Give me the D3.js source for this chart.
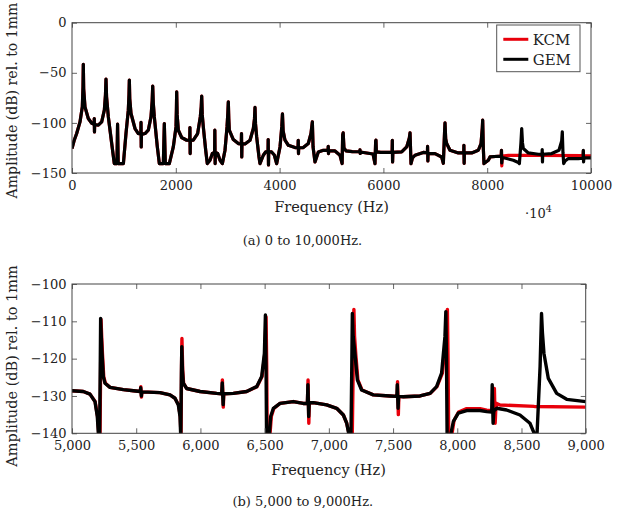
<!DOCTYPE html>
<html>
<head>
<meta charset="utf-8">
<script src="https://cdn.jsdelivr.net/npm/d3@7"></script>
<style>
  html, body { margin: 0; padding: 0; background: #fff; }
  svg { display: block; }
  text { font-family: "DejaVu Serif", serif; fill: #222; }
</style>
</head>
<body>
<svg id="chart" width="617" height="508"></svg>
<script>
// ---------- DATA ----------
const seriesNames = ["KCM", "GEM"];

// Panel (a): 0 to 10,000 Hz — [frequency Hz, amplitude dB]
const topShared = [
  [0,-125.6],[45,-117],[90,-110.6],[154,-99],[199,-84],[212,-64],[218,-41.6],[225,-66],[250,-84],[314,-95.6],[380,-100.3],
  [426,-101.3],[429,-95.6],[433,-109],[437,-101.6],[507,-102.3],[572,-99],[623,-87.3],[645,-72],[655,-56.3],[666,-74],
  [700,-94],[765,-120.6],[815,-140.6],[866,-140.6],[878,-101.3],[890,-140.6],[990,-140.6],[1040,-110.6],[1085,-87.3],
  [1098,-72],[1105,-57.3],[1113,-76],[1137,-90.6],[1214,-105.6],[1278,-110.6],[1326,-111.3],[1330,-99.5],[1334,-124],
  [1338,-111.5],[1407,-110.6],[1470,-107.3],[1522,-94],[1545,-78],[1555,-63.3],[1566,-80],[1586,-94],[1644,-124],
  [1683,-140.6],[1760,-140.6],[1779,-100.6],[1798,-140.6],[1875,-140.6],[1952,-124],[2004,-104],[2012,-86],[2017,-69],
  [2026,-92],[2049,-107.3],[2113,-114.6],[2210,-117.3],[2268,-117.5],[2272,-104.6],[2277,-130.6],[2281,-117.5],
  [2337,-117.3],[2421,-110.6],[2472,-94],[2490,-84],[2499,-73.3],[2510,-92],[2530,-104],[2576,-127.3],[2607,-140.6],
  [2659,-137.3],[2704,-130.6],[2748,-129.5],[2752,-107.3],[2758,-140.6],[2763,-129.5],[2807,-130.6],[2852,-137.3],
  [2897,-140.6],[2948,-127.3],[2987,-104],[3003,-90],[3012,-79],[3021,-96],[3031,-107.3],[3108,-116.6],[3204,-120.6],
  [3262,-121],[3266,-110.6],[3271,-134],[3275,-121],[3333,-121],[3430,-117.3],[3494,-105.6],[3516,-96],[3526,-84.6],
  [3536,-101],[3558,-114],[3603,-134],[3622,-140.6],[3686,-132.3],[3731,-129],[3777,-129],[3780,-116.6],[3786,-142],
  [3790,-129],[3846,-129],[3898,-132],[3943,-140.6],[4008,-124],[4042,-104],[4055,-91],[4068,-108],[4104,-117.3],
  [4168,-122.3],[4297,-124.6],[4355,-124.8],[4359,-117.3],[4364,-130.6],[4368,-124.8],[4457,-124.6],[4553,-120.6],
  [4605,-110.6],[4631,-99],[4645,-124],[4682,-139],[4746,-129],[4843,-127.3],[4933,-127.5],[4937,-123.3],[4942,-130.6],
  [4946,-127.8],[5067,-128],[5164,-132.3],[5196,-139],[5205,-140.6],[5215,-112],[5225,-110],[5240,-125],[5280,-128],
  [5400,-128.6],[5545,-128.8],[5549,-127],[5553,-130.5],[5557,-129],[5678,-130],[5800,-131],[5838,-140.6],[5851,-118],
  [5857,-117.3],[5865,-129],[5950,-129.5],[6100,-129.5],[6168,-129.5],[6172,-117.3],[6177,-139],[6182,-129.5],
  [6352,-129],[6449,-124],[6500,-115],[6513,-110],[6532,-140.6],[6560,-135],[6609,-132.3],[6769,-129.5],[6848,-130],
  [6851,-123.5],[6857,-138],[6861,-130.5],[6994,-130.6],[7123,-134],[7155,-140.3],[7178,-110],[7187,-100],[7200,-116],
  [7219,-120.6],[7283,-127.3],[7444,-130],[7548,-130],[7551,-122.3],[7556,-140.3],[7560,-130],[7701,-130],[7829,-127.3],
  [7881,-120.6],[7906,-105],[7913,-97.3],[7925,-125],[7938,-140.6],[8022,-137.3],[8054,-134],[8214,-133.3],[8270,-133.5],
  [8275,-127.3]
];
const topGEMTail = [
  [8280,-140],[8290,-134.5],[8375,-135.6],[8503,-137.3],[8600,-139.5],[8620,-140.6],[8650,-120],[8665,-105.6],[8680,-120],
  [8696,-125.6],[8792,-130],[8985,-131.3],[9056,-131.5],[9060,-126.6],[9065,-139],[9070,-131.3],[9243,-130.6],
  [9383,-127.3],[9435,-118],[9447,-109],[9460,-130],[9474,-140.6],[9500,-138],[9563,-135.6],[9756,-135.6],
  [9848,-135.3],[9852,-127.3],[9857,-139],[9862,-135],[10000,-135]
];
const topKCMTail = [
  [8281,-143],[8292,-133],[8407,-132.3],[9000,-132.5],[9848,-132.7],[9852,-128],[9857,-137],[9862,-132.8],[10000,-133]
];

// Panel (b): 5,000 to 9,000 Hz
const zoomGEM = [
  [5000,-128.6],[5088,-128.8],[5140,-129.5],[5179,-131.5],[5197,-135.5],[5207,-141],[5215,-141],[5220,-122],[5223,-109.2],
  [5228,-114],[5234,-118.6],[5244,-124.8],[5257,-126.6],[5296,-127.7],[5400,-128.3],[5478,-128.6],[5532,-128.8],
  [5535,-127.8],[5540,-130],[5543,-128.9],[5685,-129.1],[5763,-129.7],[5802,-130.6],[5828,-132.4],[5841,-135.5],
  [5847,-141],[5852,-124],[5855,-116.8],[5860,-123],[5867,-126.6],[5893,-128],[5997,-128.8],[6126,-129.3],[6166,-129.4],
  [6170,-126.5],[6177,-132.3],[6181,-129.4],[6256,-129.3],[6360,-128.8],[6438,-127.5],[6477,-124.8],[6498,-118.6],
  [6506,-108.3],[6511,-122],[6515,-141],[6535,-141],[6547,-135.5],[6568,-133.3],[6620,-132],[6723,-131.5],[6801,-132],
  [6833,-132],[6837,-127],[6843,-135.5],[6847,-131.8],[6879,-131.8],[6983,-132.4],[7061,-133.3],[7113,-135.1],
  [7139,-137.3],[7157,-140.5],[7172,-141],[7178,-124],[7183,-107.9],[7189,-114],[7203,-118.6],[7222,-125.7],
  [7255,-128.4],[7346,-129.7],[7476,-130],[7530,-130.1],[7533,-127],[7539,-133.3],[7543,-130.1],[7580,-130.2],
  [7710,-130],[7788,-129.3],[7839,-127.5],[7878,-123.9],[7904,-114.1],[7911,-107.4],[7916,-120],[7921,-141],[7945,-141],
  [7969,-136.9],[8008,-134.6],[8073,-133.9],[8177,-133.9],[8229,-134.2],[8268,-134.3],[8272,-127],[8279,-137.3],
  [8285,-134],[8307,-133.3],[8384,-133.75],[8488,-135.1],[8566,-137.3],[8605,-140.5],[8620,-141],[8645,-122],
  [8656,-107.9],[8663,-113],[8675,-118.6],[8709,-125.3],[8774,-129.3],[8852,-130.9],[9000,-131.5]
];
const zoomKCM = [
  [5000,-128.6],[5088,-128.8],[5140,-129.5],[5180,-131.5],[5199,-135.5],[5210,-141],[5218,-141],[5223,-122],[5226,-109.5],
  [5231,-114],[5237,-118.6],[5247,-124.8],[5260,-126.6],[5296,-127.7],[5400,-128.3],[5478,-128.6],[5532,-128.8],
  [5536,-127.5],[5541,-130.3],[5545,-128.9],[5685,-129.1],[5763,-129.7],[5802,-130.6],[5830,-132.4],[5843,-135.5],
  [5849,-141],[5853,-122],[5856,-114.6],[5862,-123],[5869,-126.6],[5893,-128],[5997,-128.8],[6126,-129.3],[6166,-129.4],
  [6171,-125.7],[6178,-133],[6182,-129.4],[6256,-129.3],[6360,-128.8],[6440,-127.5],[6480,-124.8],[6502,-118.6],
  [6511,-108.8],[6516,-122],[6520,-141],[6540,-141],[6552,-135.5],[6572,-133.3],[6620,-132],[6723,-131.5],[6801,-132],
  [6833,-132],[6838,-125.7],[6844,-137.3],[6848,-131.8],[6879,-131.8],[6983,-132.4],[7061,-133.3],[7113,-135.1],
  [7139,-137.3],[7160,-140.5],[7182,-141],[7189,-124],[7195,-106.8],[7200,-114],[7210,-119],[7226,-125.7],
  [7258,-128.4],[7346,-129.7],[7476,-130],[7531,-130.1],[7535,-126.2],[7541,-135],[7545,-130.1],[7580,-130.2],
  [7710,-130],[7790,-129.3],[7842,-127.5],[7884,-123.9],[7912,-114.1],[7923,-106.8],[7928,-120],[7933,-141],[7955,-141],
  [7975,-136.5],[8010,-134.3],[8073,-133.4],[8177,-133.4],[8229,-133.8],[8285,-134],[8289,-128],[8295,-137.3],
  [8300,-133.5],[8307,-132],[8333,-132.4],[8600,-132.8],[9000,-133.0]
];

const topXTicks = [0, 2000, 4000, 6000, 8000, 10000];
const topYTicks = [0, -50, -100, -150];
const zoomXTicks = [5000, 5500, 6000, 6500, 7000, 7500, 8000, 8500, 9000];
const zoomYTicks = [-100, -110, -120, -130, -140];

// ---------- DRAW ----------
const svg = d3.select("#chart");
svg.append("rect").attr("width", 617).attr("height", 508).attr("fill", "#fff");

const colors = { KCM: "#e8000b", GEM: "#000" };

function panel(cfg) {
  const { id, x0, x1, y0, y1, xDomain, yDomain, xTicks, yTicks, xFmt, series, lw } = cfg;
  const x = d3.scaleLinear().domain(xDomain).range([x0, x1]);
  const y = d3.scaleLinear().domain(yDomain).range([y1, y0]);
  const g = svg.append("g");

  g.append("clipPath").attr("id", "clip" + id)
    .append("rect").attr("x", x0).attr("y", y0).attr("width", x1 - x0).attr("height", y1 - y0);

  const line = d3.line().x(d => x(d[0])).y(d => y(d[1]));
  const plot = g.append("g").attr("clip-path", `url(#clip${id})`);
  series.forEach(s => {
    plot.append("path").datum(s.data)
      .attr("d", line)
      .attr("fill", "none")
      .attr("stroke", colors[s.name])
      .attr("stroke-width", lw)
      .attr("stroke-linejoin", "round")
      .attr("stroke-linecap", "butt");
  });

  const tk = 5;
  const axB = g.append("g").attr("transform", `translate(0,${y1})`)
    .call(d3.axisBottom(x).tickValues(xTicks).tickFormat(xFmt).tickSize(-tk).tickPadding(7.5));
  const axT = g.append("g").attr("transform", `translate(0,${y0})`)
    .call(d3.axisTop(x).tickValues(xTicks).tickFormat("").tickSize(-tk));
  const axL = g.append("g").attr("transform", `translate(${x0},0)`)
    .call(d3.axisLeft(y).tickValues(yTicks).tickSize(-tk).tickPadding(5.5));
  const axR = g.append("g").attr("transform", `translate(${x1},0)`)
    .call(d3.axisRight(y).tickValues(yTicks).tickFormat("").tickSize(-tk));
  [axB, axT, axL, axR].forEach(a => {
    a.select(".domain").remove();
    a.selectAll(".tick line").attr("stroke", "#555").attr("stroke-width", 0.9);
    a.selectAll("text").attr("font-family", "DejaVu Serif").attr("font-size", 13).attr("fill", "#222");
  });

  g.append("rect").attr("x", x0).attr("y", y0).attr("width", x1 - x0).attr("height", y1 - y0)
    .attr("fill", "none").attr("stroke", "#444").attr("stroke-width", 1);
  return { x, y, g };
}

const A = panel({
  id: "a", x0: 72, x1: 591, y0: 22.7, y1: 173,
  xDomain: [0, 10000], yDomain: [-150, 0],
  xTicks: topXTicks, yTicks: topYTicks, xFmt: d3.format("d"),
  series: [
    { name: "KCM", data: topShared.concat(topKCMTail) },
    { name: "GEM", data: topShared.concat(topGEMTail) }
  ],
  lw: 3.2
});

const B = panel({
  id: "b", x0: 72, x1: 585.7, y0: 284, y1: 433.3,
  xDomain: [5000, 9000], yDomain: [-140, -100],
  xTicks: zoomXTicks, yTicks: zoomYTicks, xFmt: d3.format(","),
  series: [
    { name: "KCM", data: zoomKCM },
    { name: "GEM", data: zoomGEM }
  ],
  lw: 3.4
});

// axis labels
const labelFont = 14.5;
svg.append("text").attr("x", 331.5).attr("y", 212).attr("text-anchor", "middle")
  .attr("font-size", labelFont).text("Frequency (Hz)");
svg.append("text").attr("x", 328.5).attr("y", 475).attr("text-anchor", "middle")
  .attr("font-size", labelFont).text("Frequency (Hz)");
svg.append("text").attr("transform", "translate(16.5,100.5) rotate(-90)").attr("text-anchor", "middle")
  .attr("font-size", 14.1).text("Amplitude (dB) rel. to 1mm");
svg.append("text").attr("transform", "translate(16.5,366) rotate(-90)").attr("text-anchor", "middle")
  .attr("font-size", labelFont).text("Amplitude (dB) rel. to 1mm");

// ·10^4 multiplier
const mult = svg.append("text").attr("x", 525).attr("y", 218).attr("font-size", 13);
mult.append("tspan").text("·10");
mult.append("tspan").attr("dy", -6).attr("font-size", 9.5).text("4");

// captions
svg.append("text").attr("x", 302.5).attr("y", 245).attr("text-anchor", "middle")
  .attr("font-size", 13).text("(a) 0 to 10,000Hz.");
svg.append("text").attr("x", 302.8).attr("y", 506).attr("text-anchor", "middle")
  .attr("font-size", 13).text("(b) 5,000 to 9,000Hz.");

// legend
const lg = svg.append("g");
lg.append("rect").attr("x", 496.7).attr("y", 25).attr("width", 83.3).attr("height", 46.7)
  .attr("fill", "#fff").attr("stroke", "#555").attr("stroke-width", 1);
seriesNames.forEach((n, i) => {
  const yy = 39.3 + i * 20;
  lg.append("line").attr("x1", 503.3).attr("x2", 528.3).attr("y1", yy).attr("y2", yy)
    .attr("stroke", colors[n]).attr("stroke-width", 3);
  lg.append("text").attr("x", 532.7).attr("y", yy + 5.3).attr("font-size", 15).text(n);
});
</script>
</body>
</html>
